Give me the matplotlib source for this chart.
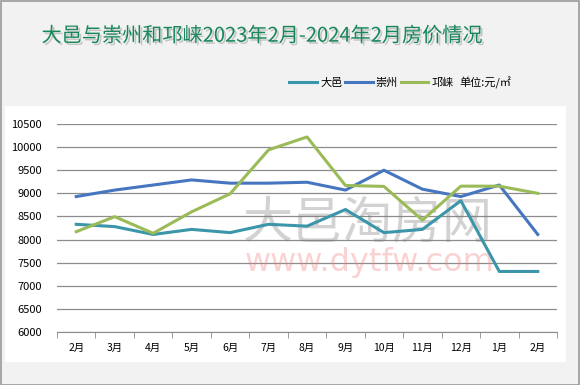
import matplotlib.pyplot as plt
from matplotlib.patches import Rectangle
from matplotlib.lines import Line2D
import matplotlib.patheffects as pe

plt.rcParams['font.family'] = ['Noto Sans CJK SC', 'DejaVu Sans']

months = ['2月', '3月', '4月', '5月', '6月', '7月', '8月', '9月', '10月', '11月', '12月', '1月', '2月']
dayi = [8330, 8280, 8110, 8220, 8150, 8330, 8290, 8650, 8150, 8220, 8840, 7310, 7310]
chongzhou = [8930, 9070, 9180, 9290, 9220, 9220, 9240, 9070, 9500, 9090, 8930, 9180, 8110]
qionglai = [8170, 8495, 8135, 8600, 8990, 9940, 10220, 9170, 9150, 8420, 9155, 9155, 9000]
series_names = ['大邑', '崇州', '邛崃']
colors = ['#3b96aa', '#4676c0', '#9bbb59']

fig = plt.figure(figsize=(5.8, 3.85), dpi=100)
fig.patch.set_facecolor('#f2f2f2')
fig.patches.append(Rectangle((0.001, 0.001), 0.997, 0.997, transform=fig.transFigure,
                             fill=False, edgecolor='#9a9a9a', lw=1.2, zorder=-2))
fig.patches.append(Rectangle((5 / 580, 23 / 385), 561 / 580, 256 / 385, transform=fig.transFigure,
                             facecolor='white', edgecolor='none', zorder=-1))

ax = fig.add_axes([57 / 580, 53 / 385, 500 / 580, 208 / 385])
ax.set_facecolor('none')
x = list(range(len(months)))
for vals, c, name in zip([dayi, chongzhou, qionglai], colors, series_names):
    ax.plot(x, vals, color=c, lw=2.2, label=name, zorder=3)

ax.set_xlim(-0.5, len(months) - 0.5)
ax.set_ylim(6000, 10500)
ax.set_yticks(range(6000, 10501, 500))
ax.grid(axis='y', color='#8c8c8c', lw=0.9)
ax.set_axisbelow(True)
ax.set_xticks(x)
ax.set_xticklabels(months, fontsize=7.5)
ax.set_xticks([i - 0.5 for i in range(len(months) + 1)], minor=True)
ax.tick_params(axis='x', which='major', length=0, pad=8)
ax.tick_params(axis='x', which='minor', length=4, color='#8c8c8c', direction='out')
ax.tick_params(axis='y', length=0, labelsize=8, pad=11)
for s in ['top', 'right', 'left']:
    ax.spines[s].set_visible(False)
ax.spines['bottom'].set_color('#8c8c8c')

# watermark, behind the lines
ax.text(0.635, 0.42, '大邑淘房网', fontsize=36, color='#7f7f7f', alpha=0.35,
        ha='center', va='center', transform=fig.transFigure, zorder=1)
ax.text(0.637, 0.318, 'www.dytfw.com', fontsize=23, color='#f08080', alpha=0.35,
        ha='center', va='center', family='DejaVu Sans', transform=fig.transFigure, zorder=1)

fig.text(0.451, 0.906, '大邑与崇州和邛崃2023年2月-2024年2月房价情况', fontsize=14.5,
         color='#17875a', ha='center', va='center',
         path_effects=[pe.withSimplePatchShadow(offset=(1.5, -1.5), shadow_rgbFace='#999999', alpha=0.5)])

handles = [Line2D([0], [0], color=c, lw=2.2) for c in colors]
fig.legend(handles, series_names, ncol=3, frameon=False, fontsize=8,
           loc='center left', bbox_to_anchor=(285 / 580, 1 - 83 / 385),
           handlelength=2.5, handletextpad=0.25, columnspacing=0.25, borderaxespad=0)
fig.text(459 / 580, 1 - 83 / 385, '单位:元/㎡', fontsize=8, ha='left', va='center')

fig.savefig('out.png', dpi=100, facecolor=fig.get_facecolor())
